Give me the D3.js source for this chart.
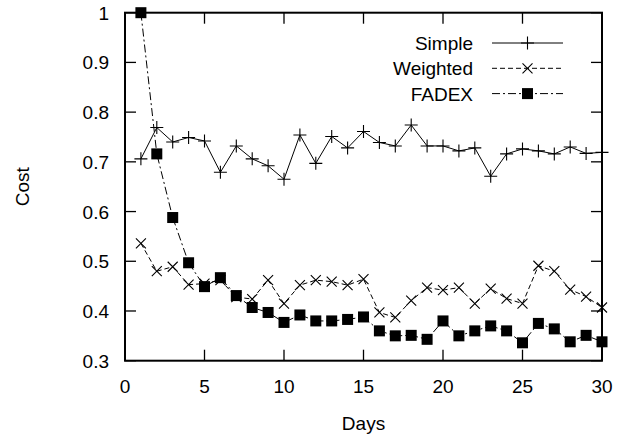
<!DOCTYPE html>
<html><head><meta charset="utf-8">
<script src="https://cdn.jsdelivr.net/npm/d3@7"></script>
<style>body{margin:0;background:#fff}</style>
</head><body>
<svg id="c" width="619" height="441"></svg>
<script>
const days = d3.range(1, 31);
const simple = [0.706,0.769,0.740,0.749,0.742,0.679,0.732,0.706,0.692,0.665,0.754,0.697,0.751,0.728,0.761,0.739,0.732,0.774,0.732,0.732,0.722,0.728,0.671,0.716,0.726,0.722,0.716,0.730,0.717,0.719];
const weighted = [0.536,0.480,0.489,0.453,0.455,0.462,0.428,0.424,0.462,0.415,0.452,0.462,0.459,0.452,0.464,0.397,0.387,0.421,0.447,0.442,0.447,0.415,0.445,0.425,0.415,0.491,0.480,0.443,0.429,0.407];
const fadex = [1.0,0.716,0.588,0.497,0.449,0.467,0.431,0.407,0.397,0.377,0.392,0.380,0.380,0.383,0.388,0.360,0.350,0.351,0.343,0.380,0.350,0.360,0.370,0.360,0.336,0.375,0.364,0.338,0.351,0.338];
const xTicks = [0,5,10,15,20,25,30];
const yTicks = [0.3,0.4,0.5,0.6,0.7,0.8,0.9,1];
const seriesNames = ["Simple","Weighted","FADEX"];

const svg = d3.select("#c");
const L = 125, R = 602, T = 12.7, B = 360.7;
const x = d3.scaleLinear().domain([0,30]).range([L,R]);
const y = d3.scaleLinear().domain([0.3,1]).range([B,T]);
const font = "'Liberation Sans', Arial, sans-serif";
const fs = 19, tl = 11;

// ticks (inward, mirrored)
const g = svg.append("g").attr("stroke","#000").attr("stroke-width",1.3);
xTicks.forEach(t=>{
  g.append("line").attr("x1",x(t)).attr("x2",x(t)).attr("y1",B).attr("y2",B-tl);
  g.append("line").attr("x1",x(t)).attr("x2",x(t)).attr("y1",T).attr("y2",T+tl);
});
yTicks.forEach(t=>{
  g.append("line").attr("x1",L).attr("x2",L+tl).attr("y1",y(t)).attr("y2",y(t));
  g.append("line").attr("x1",R).attr("x2",R-tl).attr("y1",y(t)).attr("y2",y(t));
});
svg.append("rect").attr("x",L).attr("y",T).attr("width",R-L).attr("height",B-T)
  .attr("fill","none").attr("stroke","#000").attr("stroke-width",2);

// tick labels
svg.append("g").selectAll("text").data(xTicks).join("text")
  .attr("x",d=>x(d)).attr("y",393).attr("text-anchor","middle")
  .attr("font-family",font).attr("font-size",fs).text(d=>d);
svg.append("g").selectAll("text").data(yTicks).join("text")
  .attr("x",109).attr("y",d=>y(d)+7).attr("text-anchor","end")
  .attr("font-family",font).attr("font-size",fs).text(d=>d3.format("")(d));
svg.append("text").attr("x",(L+R)/2).attr("y",430).attr("text-anchor","middle")
  .attr("font-family",font).attr("font-size",fs).text("Days");
svg.append("text").attr("transform",`translate(29,${(T+B)/2}) rotate(-90)`)
  .attr("text-anchor","middle").attr("font-family",font).attr("font-size",fs).text("Cost");

const line = d3.line().x((d,i)=>x(days[i])).y(d=>y(d));
const styles = [
  {data:simple, dash:null, marker:"plus"},
  {data:weighted, dash:"5,3", marker:"cross"},
  {data:fadex, dash:"8,3,2,3", marker:"square"}
];
function drawMarker(sel, type, cx, cy){
  if(type==="plus"){
    sel.append("path").attr("d",`M${cx-6.5},${cy}H${cx+6.5}M${cx},${cy-6.5}V${cy+6.5}`)
      .attr("stroke","#000").attr("stroke-width",1.1).attr("fill","none");
  } else if(type==="cross"){
    const s=5;
    sel.append("path").attr("d",`M${cx-s},${cy-s}L${cx+s},${cy+s}M${cx-s},${cy+s}L${cx+s},${cy-s}`)
      .attr("stroke","#000").attr("stroke-width",1.1).attr("fill","none");
  } else {
    sel.append("rect").attr("x",cx-5.5).attr("y",cy-5.5).attr("width",11).attr("height",11).attr("fill","#000");
  }
}
const plot = svg.append("g");
styles.forEach(s=>{
  plot.append("path").datum(s.data).attr("d",line).attr("fill","none")
    .attr("stroke","#000").attr("stroke-width",1).attr("stroke-dasharray",s.dash);
  const mg = plot.append("g");
  s.data.forEach((v,i)=>drawMarker(mg, s.marker, x(days[i]), y(v)));
});

// legend
const lg = svg.append("g");
seriesNames.forEach((n,i)=>{
  const cy = 43 + i*25.3;
  lg.append("text").attr("x",473).attr("y",cy+7).attr("text-anchor","end")
    .attr("font-family",font).attr("font-size",fs).text(n);
  lg.append("line").attr("x1",492).attr("x2",563).attr("y1",cy).attr("y2",cy)
    .attr("stroke","#000").attr("stroke-width",1).attr("stroke-dasharray",styles[i].dash);
  drawMarker(lg, styles[i].marker, 527.5, cy);
});
</script>
</body></html>
